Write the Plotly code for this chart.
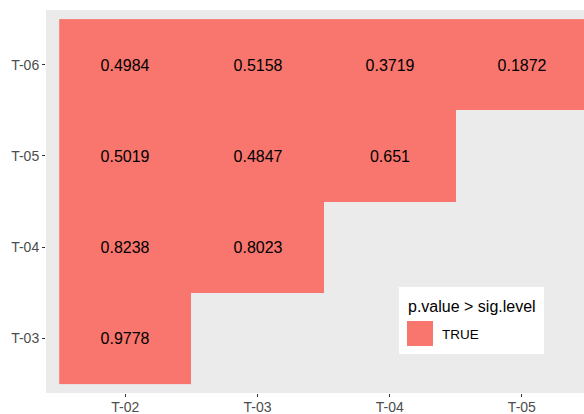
import plotly.graph_objects as go

# Pairwise comparison results (lower triangle)
x_labels = ["T-02", "T-03", "T-04", "T-05"]
y_labels = ["T-03", "T-04", "T-05", "T-06"]
p_values = [
    ["0.9778", None, None, None],
    ["0.8238", "0.8023", None, None],
    ["0.5019", "0.4847", "0.651", None],
    ["0.4984", "0.5158", "0.3719", "0.1872"],
]
legend_title = "p.value > sig.level"
legend_label = "TRUE"

FILL = "#F8766D"
W, H = 584, 414
L, R, T, B = 46, 0, 10, 21

# p.value > sig.level flag for each cell (1 = TRUE, None = no test)
z = [[1 if v is not None else None for v in row] for row in p_values]
text = [[v if v is not None else "" for v in row] for row in p_values]

fig = go.Figure(
    go.Heatmap(
        x=x_labels,
        y=y_labels,
        z=z,
        text=text,
        texttemplate="%{text}",
        textfont=dict(family="Liberation Sans, Arial", size=16, color="#000000"),
        colorscale=[[0, FILL], [1, FILL]],
        showscale=False,
        hoverongaps=False,
        xgap=0,
        ygap=0,
    )
)

axis_common = dict(
    type="category",
    showgrid=False,
    zeroline=False,
    showline=False,
    ticks="outside",
    ticklen=3,
    tickwidth=1,
    tickcolor="#333333",
    tickfont=dict(family="Liberation Sans, Arial", size=14, color="#4D4D4D"),
    automargin=False,
    fixedrange=True,
)

fig.update_xaxes(categoryorder="array", categoryarray=x_labels,
                 range=[-0.6, 3.47], ticklabelstandoff=-2, **axis_common)
fig.update_yaxes(categoryorder="array", categoryarray=y_labels,
                 range=[-0.6, 3.6], **axis_common)


def px(xp):
    return (xp - L) / (W - L - R)


def py(yp):
    return (H - B - yp) / (H - T - B)


# Legend drawn inside the panel
shapes = [
    dict(type="rect", xref="paper", yref="paper",
         x0=px(399), x1=px(544), y0=py(354), y1=py(287),
         fillcolor="#FFFFFF", line=dict(width=0), layer="above"),
    dict(type="rect", xref="paper", yref="paper",
         x0=px(407), x1=px(433), y0=py(346), y1=py(321),
         fillcolor=FILL, line=dict(width=0), layer="above"),
]
annotations = [
    dict(text=legend_title, xref="paper", yref="paper",
         x=px(406), y=py(306), xanchor="left", yanchor="middle",
         showarrow=False,
         font=dict(family="Liberation Sans, Arial", size=16, color="#000000")),
    dict(text=legend_label, xref="paper", yref="paper",
         x=px(440), y=py(334), xanchor="left", yanchor="middle",
         showarrow=False,
         font=dict(family="Liberation Sans, Arial", size=13.5, color="#000000")),
]

fig.update_layout(
    width=W,
    height=H,
    margin=dict(l=L, r=R, t=T, b=B, pad=0),
    paper_bgcolor="#FFFFFF",
    plot_bgcolor="#EBEBEB",
    shapes=shapes,
    annotations=annotations,
    showlegend=False,
)

fig.write_html("out.html", config={"displayModeBar": False})
